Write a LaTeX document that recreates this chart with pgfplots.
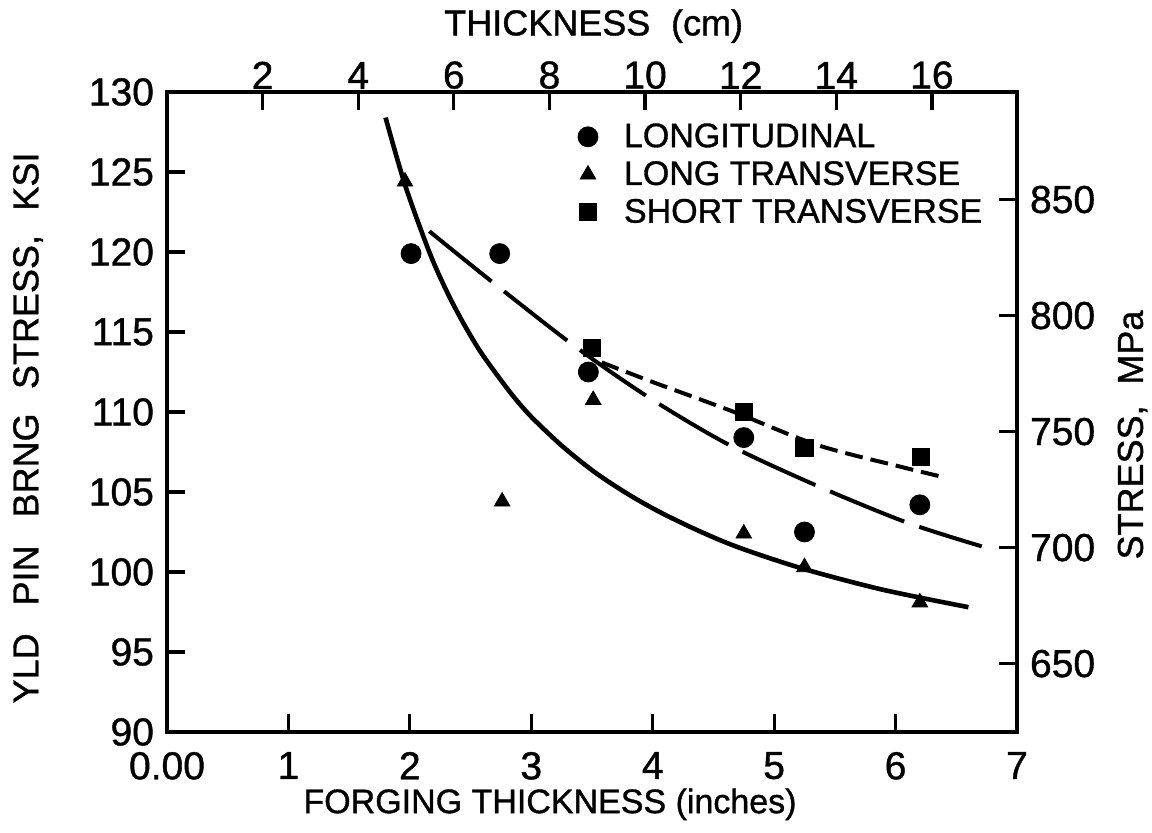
\documentclass[border=0pt]{standalone}
\usepackage{fontspec}
\setmainfont{Liberation Sans}[FakeBold=1]
\usepackage{pgfplots}
\pgfplotsset{compat=1.18}
\newcommand{\labf}{\fontsize{18}{21}\selectfont}
\newcommand{\legf}{\fontsize{17}{20}\selectfont}
\newcommand{\tickf}{\fontsize{19.5}{22}\selectfont}
\begin{document}
\begin{tikzpicture}
\path[use as bounding box] (-83.5pt,-50.5pt) rectangle (492.5pt,366pt);
\begin{axis}[
  scale only axis, width=425pt, height=320pt,
  at={(0,0)}, anchor=south west,
  xmin=0, xmax=7, ymin=90, ymax=130,
  xtick pos=bottom, ytick pos=left,
  tick align=inside, major tick length=9pt,
  axis line style={line width=2pt}, every tick/.style={line width=1.6pt, black},
  xtick={0,1,...,7}, xticklabels={0.00,1,2,3,4,5,6,7},
  ytick={90,95,...,130},
  /pgf/number format/assume math mode=true,
  tick label style={font=\tickf},
  xticklabel style={yshift=-6.5pt},
  yticklabel style={xshift=-3pt},
  xlabel={FORGING THICKNESS (inches)},
  ylabel={YLD\hspace{0.5em} PIN\hspace{0.5em} BRNG\hspace{0.4em} STRESS,\hspace{0.4em} KSI},
  xlabel style={font=\legf, at={(axis description cs:0.4506,-0.113)}, anchor=center},
  ylabel style={font=\labf, at={(axis description cs:-0.1635,0.475)}, anchor=center},
  legend style={at={(axis description cs:0.476,0.964)}, anchor=north west, draw=none, fill=none, font=\legf, row sep=1.5pt,
    /tikz/every odd column/.append style={column sep=11pt}},
  legend cell align=left,
]
\addplot[only marks, mark=*, mark size=5pt, black] coordinates {
 (2.01,119.9) (2.74,119.9) (3.47,112.5) (4.75,108.4) (5.25,102.5) (6.2,104.2)};
\addlegendentry{LONGITUDINAL}
\addplot[only marks, mark=triangle*, mark size=4.5pt, black] coordinates {
 (1.96,124.4) (2.76,104.4) (3.51,110.75) (4.75,102.4) (5.25,100.3) (6.2,98.1)};
\addlegendentry{LONG TRANSVERSE}
\addplot[only marks, mark=square*, mark size=4.3pt, black] coordinates {
 (3.5,114.0) (4.75,110.0) (5.25,107.75) (6.21,107.2)};
\addlegendentry{SHORT TRANSVERSE}
% solid curve (long transverse)
\addplot[forget plot, black, line width=2.3pt, smooth] coordinates {
 (1.80,128.4) (1.96,124.2) (2.16,120.0) (2.30,117.6) (2.43,115.7) (2.57,113.9)
 (2.71,112.4) (2.85,111.0) (3.00,109.7) (3.25,107.9) (3.52,106.25) (3.80,104.85)
 (4.07,103.7) (4.40,102.5) (4.72,101.5) (5.24,100.2) (5.89,98.9) (6.60,97.8)};
% long-dash curve (longitudinal)
\addplot[forget plot, black, line width=2pt, smooth, dash pattern=on 40pt off 8pt] coordinates {
 (2.16,121.3) (2.65,118.3) (3.36,114.1) (3.99,110.8) (4.64,107.9) (5.35,105.4)
 (6.09,103.1) (6.71,101.6)};
% short-dash curve (short transverse)
\addplot[forget plot, black, line width=2pt, smooth, dash pattern=on 9pt off 4pt] coordinates {
 (3.58,113.1) (3.99,111.9) (4.67,110.0) (5.35,107.95) (6.03,106.6) (6.41,105.9)};
\end{axis}
\begin{axis}[
  scale only axis, width=425pt, height=320pt,
  at={(0,0)}, anchor=south west,
  xmin=0, xmax=17.78, ymin=620.55, ymax=896.35,
  axis x line*=top, axis y line*=right,
  tick align=inside, major tick length=9pt,
  axis line style={line width=2pt}, every tick/.style={line width=1.6pt, black},
  xtick={2,4,...,16}, ytick={650,700,...,850},
  /pgf/number format/assume math mode=true,
  tick label style={font=\tickf},
  xticklabel style={yshift=-2pt},
  yticklabel style={xshift=3pt},
  xlabel={THICKNESS\hspace{0.3em} (cm)}, ylabel={STRESS,\hspace{0.3em} MPa},
  label style={font=\labf},
  xlabel style={at={(axis description cs:0.502,1.103)}, anchor=center},
  ylabel style={at={(axis description cs:1.136,0.464)}, anchor=center, rotate=0},
]
\addplot[draw=none, forget plot] coordinates {(2,700)};
\end{axis}
\end{tikzpicture}
\end{document}
